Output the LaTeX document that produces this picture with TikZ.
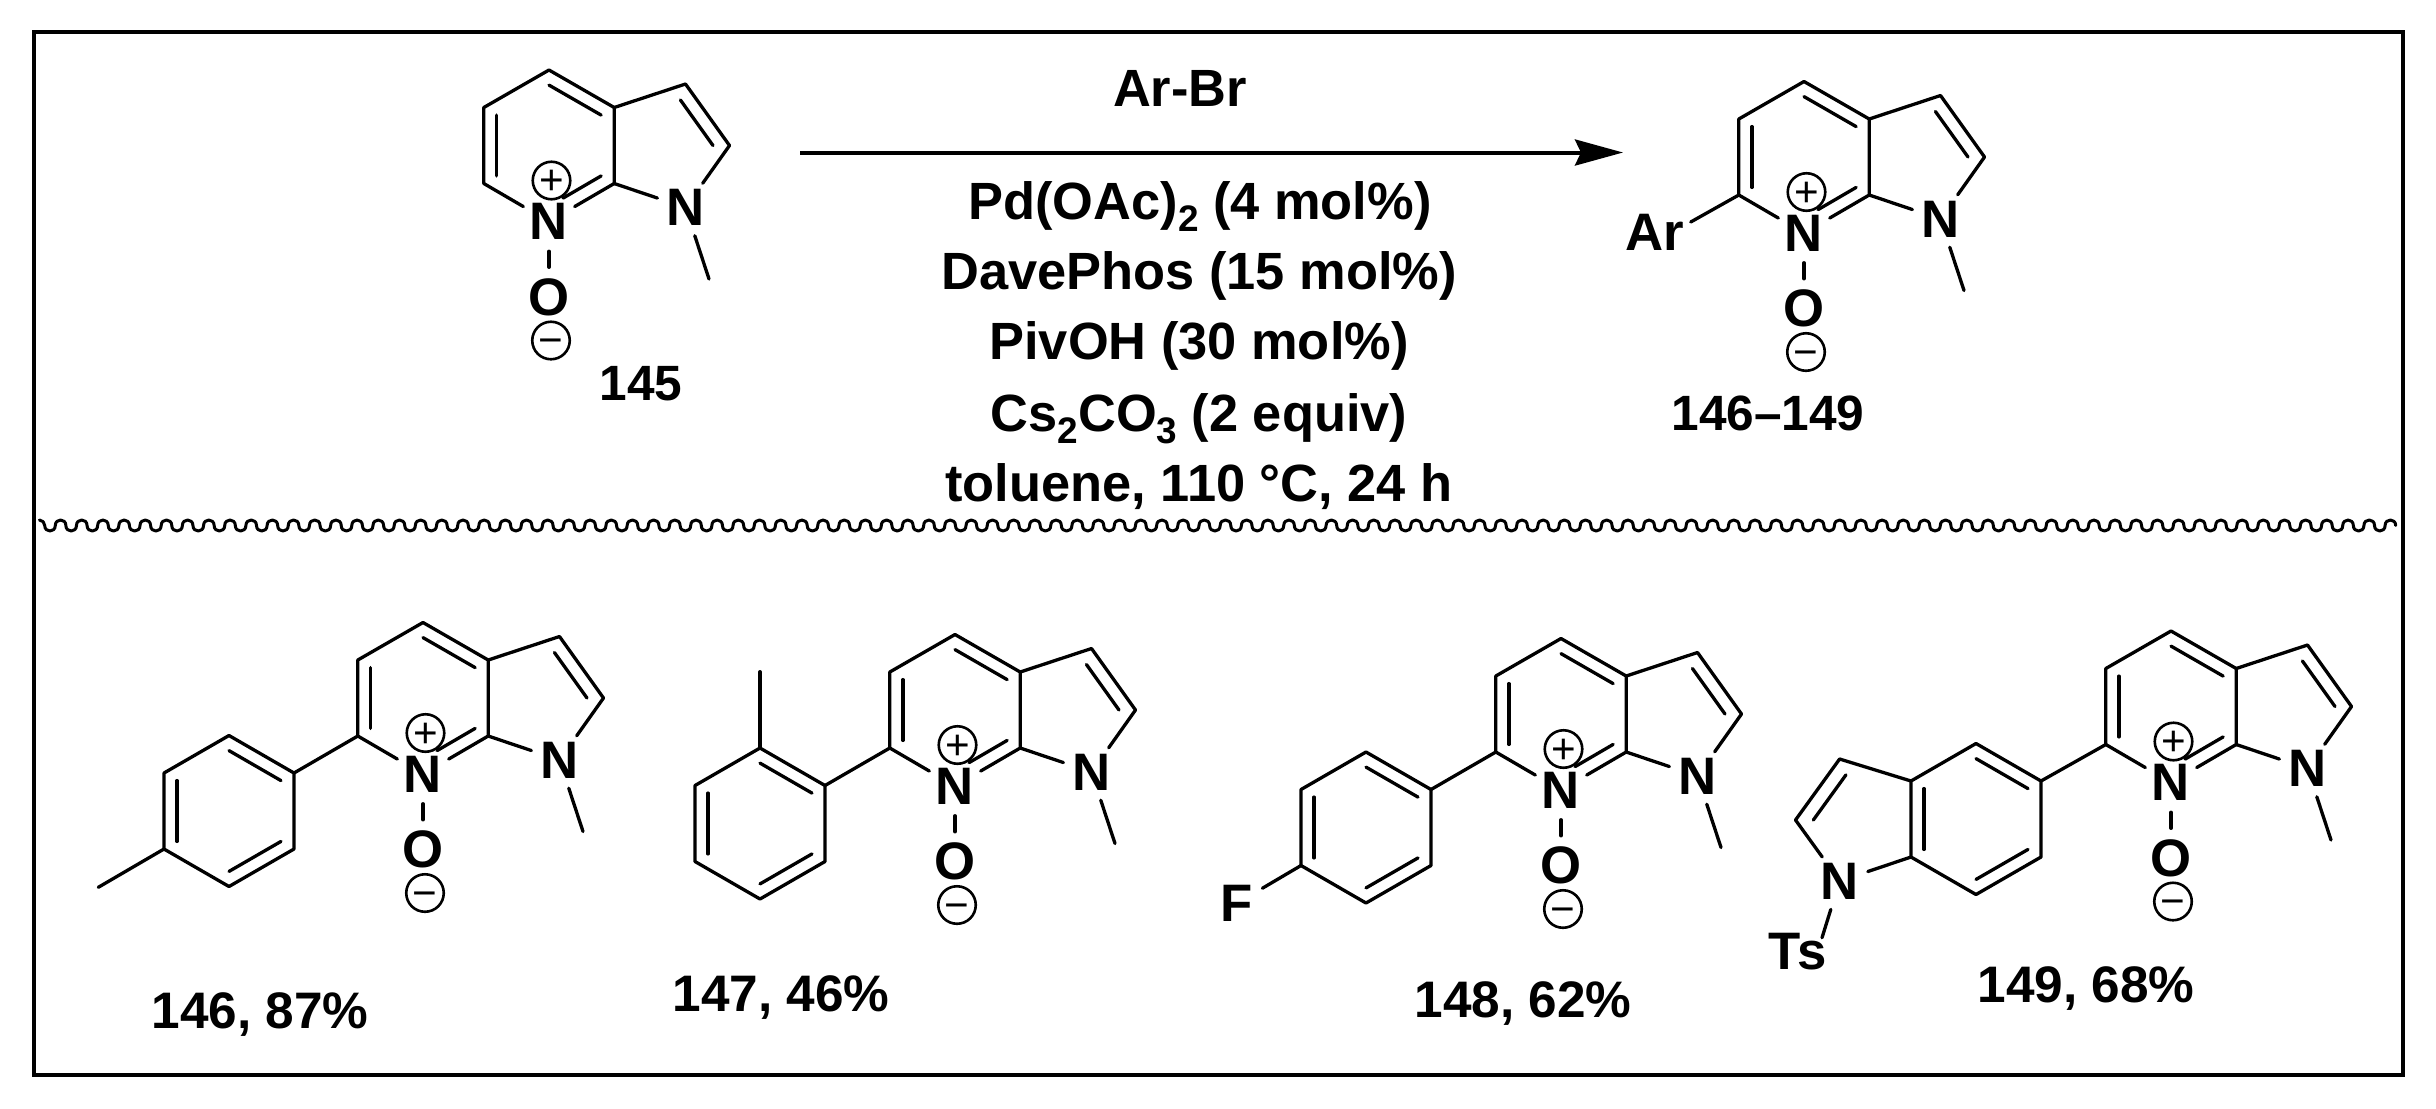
\documentclass[tikz,border=0pt]{standalone}
\usepackage{fontspec}
\setmainfont{Liberation Sans}
\usetikzlibrary{calc,arrows.meta}
\tikzset{
  x=0.01cm,y=-0.01cm,
  bond/.style={line width=0.033cm,line cap=round,line join=round,black},
  atom/.style={circle,inner sep=0pt,minimum size=0.58cm,font=\fontsize{15}{15}\selectfont\bfseries},
  chg/.style={draw,circle,line width=0.026cm,minimum size=0.375cm,inner sep=0pt,font=\fontsize{12}{12}\selectfont\mdseries},
  lbl/.style={anchor=base,inner sep=0pt,font=\fontsize{14.6}{14.6}\selectfont\bfseries},
  lblb/.style={anchor=base,inner sep=0pt,font=\fontsize{14.1}{14.1}\selectfont\bfseries},
  rgt/.style={anchor=base,inner sep=0pt,font=\fontsize{14.9}{14.9}\selectfont\bfseries},
}
\newcommand{\inbond}[4]{\draw[bond] ($(#1)!#4!(#3)$) -- ($(#2)!#4!(#3)$);}
\newcommand{\chemsub}[1]{\raisebox{-0.22em}{\fontsize{10.5}{10.5}\selectfont #1}}
% azaindole N-oxide core: prefix, x, y of the top ring atom
\newcommand{\azamol}[3]{%
\begin{scope}[shift={(#2,#3)}]
  \coordinate (#1-T) at (0,0);
  \coordinate (#1-UL) at (-65.2,37.5);
  \coordinate (#1-LL) at (-65.2,113.5);
  \coordinate (#1-LR) at (65.2,113.5);
  \coordinate (#1-UR) at (65.2,37.5);
  \coordinate (#1-C3) at (136.5,14);
  \coordinate (#1-C2) at (180.5,75.5);
  \coordinate (#1-Me) at (160,209);
  \coordinate (#1-c) at (0,75.5);
  \coordinate (#1-d) at (117,75.5);
  \node[atom] (#1-N) at (0,151.5) {N};
  \node[atom] (#1-Np) at (136.5,137.5) {N};
  \node[atom] (#1-O) at (0,227) {O};
  \node[chg] (#1-plus) at (2.5,110.5) {\smash{\raisebox{-4.1pt}{+}}};
  \node[chg] (#1-minus) at (2,270.5) {\smash{\raisebox{-4.1pt}{−}}};
\end{scope}
\draw[bond] (#1-N) -- (#1-LL) -- (#1-UL) -- (#1-T) -- (#1-UR) -- (#1-LR) -- (#1-N);
\draw[bond] (#1-UR) -- (#1-C3) -- (#1-C2) -- (#1-Np) -- (#1-LR);
\draw[bond] (#1-Np) -- (#1-Me);
\draw[bond] (#1-N) -- (#1-O);
\inbond{#1-LL}{#1-UL}{#1-c}{0.2}
\inbond{#1-T}{#1-UR}{#1-c}{0.2}
\inbond{#1-C3}{#1-C2}{#1-d}{0.26}
\draw[bond] ($($(#1-N)!0.2!(#1-c)$)!0.27!($(#1-LR)!0.2!(#1-c)$)$) -- ($(#1-LR)!0.2!(#1-c)$);
}
% benzene ring: prefix, x, y of its top atom
\newcommand{\arring}[3]{%
\begin{scope}[shift={(#2,#3)}]
  \coordinate (#1-t) at (0,0);
  \coordinate (#1-a) at (65,37.5);
  \coordinate (#1-r) at (65,113.5);
  \coordinate (#1-b) at (0,151);
  \coordinate (#1-l) at (-65,113.5);
  \coordinate (#1-u) at (-65,37.5);
  \coordinate (#1-c) at (0,75.5);
\end{scope}
\draw[bond] (#1-t) -- (#1-a) -- (#1-r) -- (#1-b) -- (#1-l) -- (#1-u) -- cycle;
\inbond{#1-t}{#1-a}{#1-c}{0.2}
\inbond{#1-r}{#1-b}{#1-c}{0.2}
\inbond{#1-l}{#1-u}{#1-c}{0.2}
}
\begin{document}
\begin{tikzpicture}
\useasboundingbox (0,0) rectangle (2436,1108);
\fill[white] (0,0) rectangle (2436,1108);
% frame
\coordinate (f1) at (34,32);
\coordinate (f2) at (2403,1075);
\draw[line width=0.032cm,black] (f1) rectangle (f2);
% wavy divider
\coordinate (w1) at (39.4,520);
\draw[line width=0.03cm,black,line join=round,line cap=round] (w1)
  .. controls +(3,0) and +(0,-3) .. ++(5.3,5.5)
  \foreach \i in {1,...,111}{
    .. controls +(0,7.33) and +(0,7.33) .. ++(10.59,0)
    .. controls +(0,-7.33) and +(0,-7.33) .. ++(10.59,0)
  };
% arrow
\coordinate (as) at (800,152.5);
\coordinate (at) at (1623,152.5);
\draw[line width=0.04cm,black,-{Stealth[length=0.48cm,width=0.26cm,inset=0.06cm]}] (as) -- (at);
% reagents
\node[rgt] (r1) at (1180,106) {Ar-Br};
\node[rgt] (r2) at (1200,219.5) {Pd(OAc)\chemsub{2} (4 mol\%)};
\node[rgt] (r3) at (1199,289.5) {DavePhos (15 mol\%)};
\node[rgt] (r4) at (1199,359.5) {PivOH (30 mol\%)};
\node[rgt] (r5) at (1199,431.5) {Cs\chemsub{2}CO\chemsub{3} (2 equiv)};
\node[rgt] (r6) at (1199,501) {toluene, 110 °C, 24 h};
% 145
\azamol{s}{549}{70}
\node[lblb] (l145) at (641,400) {145};
% 146-149 generic
\azamol{g}{1804}{81.5}
\node[atom,minimum size=0.2cm] (g-Ar) at (1655,232.7) {Ar};
\draw[bond] (g-LL) -- ($(g-Ar)+(35.7,-10.7)$);
\node[lblb] (lg) at (1768,430) {146–149};
% 146
\azamol{a}{423}{622.5}
\arring{ap}{229}{735.5}
\coordinate (ap-Me) at (98.3,887.3);
\draw[bond] (a-LL) -- (ap-a);
\draw[bond] (ap-l) -- (ap-Me);
\node[lbl] (l146) at (260,1028) {146, 87\%};
% 147
\azamol{b}{955}{634.5}
\arring{bp}{760}{748}
\coordinate (bp-Me) at (760,671.7);
\draw[bond] (b-LL) -- (bp-a);
\draw[bond] (bp-t) -- (bp-Me);
\node[lbl] (l147) at (781,1011.7) {147, 46\%};
% 148
\azamol{c}{1561}{638.5}
\arring{cp}{1366}{752}
\node[atom] (cp-F) at (1236.8,903.3) {F};
\draw[bond] (c-LL) -- (cp-a);
\draw[bond] (cp-l) -- (cp-F);
\node[lbl] (l148) at (1523,1017.7) {148, 62\%};
% 149
\azamol{d}{2171}{631}
\arring{dp}{1976}{743.5}
\draw[bond] (d-LL) -- (dp-a);
\coordinate (dp-C3) at (1839.6,759);
\coordinate (dp-C2) at (1795.5,820);
\coordinate (dp-d) at (1864,820);
\node[atom] (dp-N) at (1839.6,881) {N};
\node[inner sep=0pt,font=\fontsize{15}{15}\selectfont\bfseries] (dp-Ts) at (1797.6,951.7) {Ts};
\draw[bond] (dp-u) -- (dp-C3) -- (dp-C2) -- (dp-N) -- (dp-l);
\draw[bond] (dp-N) -- ($(dp-Ts)+(24.4,-14)$);
\inbond{dp-C3}{dp-C2}{dp-d}{0.26}
\node[lbl] (l149) at (2086,1002.7) {149, 68\%};
\end{tikzpicture}
\end{document}
